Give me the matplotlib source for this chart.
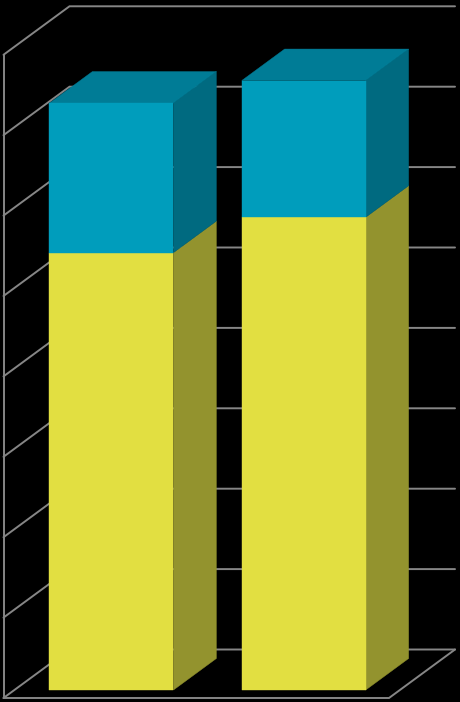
import matplotlib
matplotlib.use("Agg")
import matplotlib.pyplot as plt
from matplotlib.patches import Polygon

categories = [0, 1]
series_lower = [54.4, 58.8]
series_upper = [18.6, 17.0]
value_ticks = [0, 10, 20, 30, 40, 50, 60, 70, 80]

FRONT_COLORS = ["#E2DF41", "#009DBC"]
SIDE_COLORS = ["#93932E", "#006A80"]
TOP_COLOR = "#007C96"
GRID = "#868686"

W, H = 460, 702
PX_PER_CAT = 192.25
PX_PER_VAL = 8.04
X0_PX = 100.6
Y0_PX = 698.0
DEPTH_X = 66.0 / PX_PER_CAT
DEPTH_Y = 48.5 / PX_PER_VAL
BAR_W = 124.0 / PX_PER_CAT
D0, D1 = 0.165, 0.815


def P(c, v, d):
    return (c + DEPTH_X * d, v + DEPTH_Y * d)


fig = plt.figure(figsize=((W + 0.01) / 100, (H + 0.01) / 100), dpi=100, facecolor="black")
ax = fig.add_axes([0, 0, 1, 1], facecolor="black")
ax.set_xlim(-X0_PX / PX_PER_CAT, (W - X0_PX) / PX_PER_CAT)
ax.set_ylim((Y0_PX - H) / PX_PER_VAL, Y0_PX / PX_PER_VAL)
ax.axis("off")

wall_x = (3.5 - X0_PX) / PX_PER_CAT
floor_right = (389.0 - X0_PX) / PX_PER_CAT
top_v = value_ticks[-1]
line = dict(color=GRID, lw=1.4, zorder=1, solid_capstyle="round", solid_joinstyle="miter")

for v in value_ticks:
    a, b = P(wall_x, v, 0), P(wall_x, v, 1)
    c = P(floor_right, v, 1)
    ax.plot([a[0], b[0], c[0]], [a[1], b[1], c[1]], **line)

ax.plot([wall_x, wall_x], [0, top_v], **line)
f1, f2 = P(wall_x, 0, 0), P(floor_right, 0, 0)
f3 = P(floor_right, 0, 1)
ax.plot([f1[0], f2[0], f3[0]], [f1[1], f2[1], f3[1]], **line)

for c, low, up in zip(categories, series_lower, series_upper):
    l, r = c - BAR_W / 2, c + BAR_W / 2
    spans = [(0, low), (low, low + up)]
    for i, (v0, v1) in enumerate(spans):
        side = [P(r, v0, D0), P(r, v0, D1), P(r, v1, D1), P(r, v1, D0)]
        front = [P(l, v0, D0), P(r, v0, D0), P(r, v1, D0), P(l, v1, D0)]
        ax.add_patch(Polygon(side, closed=True, fc=SIDE_COLORS[i], ec=SIDE_COLORS[i], lw=0.3, zorder=3))
        ax.add_patch(Polygon(front, closed=True, fc=FRONT_COLORS[i], ec=FRONT_COLORS[i], lw=0.3, zorder=4))
    t = low + up
    top = [P(l, t, D0), P(r, t, D0), P(r, t, D1), P(l, t, D1)]
    ax.add_patch(Polygon(top, closed=True, fc=TOP_COLOR, ec=TOP_COLOR, lw=0.3, zorder=3))

fig.savefig("out.png", dpi=100, facecolor="black")
